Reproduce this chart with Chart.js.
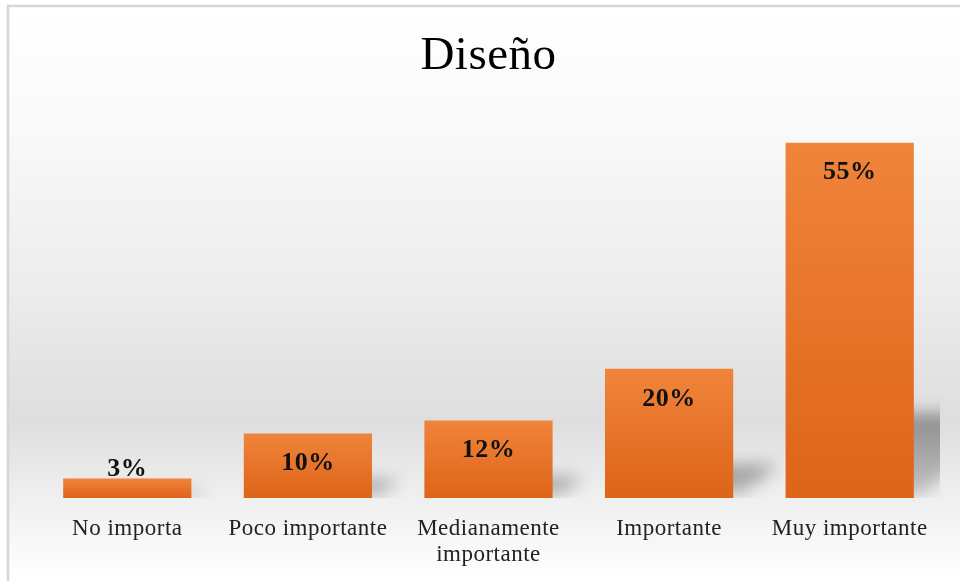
<!DOCTYPE html>
<html lang="es">
<head>
<meta charset="utf-8">
<title>Diseño</title>
<script src="https://cdn.jsdelivr.net/npm/chart.js@4/dist/chart.umd.min.js"></script>
<style>
    html, body { margin:0; padding:0; background:#ffffff; }
    #wrap { position:relative; width:960px; height:581px; }
</style>
</head>
<body>
<div id="wrap"><canvas id="disenoChart"></canvas></div>
<script>

//------------------------------------------------------
// DATA
//------------------------------------------------------

const categories = [
    "No importa",
    "Poco importante",
    ["Medianamente", "importante"],
    "Importante",
    "Muy importante"
];

const percentages = [3, 10, 12, 20, 55];

const valueLabels = ["3%", "10%", "12%", "20%", "55%"];

const SERIF = "'Liberation Serif', 'Times New Roman', serif";

//------------------------------------------------------
// BACKGROUND + FRAME (also sets the wide letter spacing)
//------------------------------------------------------

const backgroundPlugin = {
    id:"panelBackground",
    beforeDraw(chart){
        const ctx = chart.ctx;
        const w = chart.width;
        const h = chart.height;

        ctx.save();
        const g = ctx.createLinearGradient(0, 6, 0, h);
        g.addColorStop(0.00, "#ffffff");
        g.addColorStop(0.22, "#f9f9f9");
        g.addColorStop(0.50, "#ececec");
        g.addColorStop(0.72, "#dedede");
        g.addColorStop(0.87, "#f1f1f1");
        g.addColorStop(1.00, "#ffffff");
        ctx.fillStyle = g;
        ctx.fillRect(8, 6, w, h);

        ctx.strokeStyle = "#d6d6d6";
        ctx.lineWidth = 2.5;
        ctx.strokeRect(8, 6, w + 20, h + 20);
        ctx.restore();

        ctx.letterSpacing = "0.5px";
    },
    afterDraw(chart){
        chart.ctx.letterSpacing = "0px";
    }
};

//------------------------------------------------------
// PERSPECTIVE SHADOWS BEHIND THE BARS
//------------------------------------------------------

const shadowPlugin = {
    id:"barShadows",
    beforeDatasetsDraw(chart){
        const ctx = chart.ctx;
        const area = chart.chartArea;
        const meta = chart.getDatasetMeta(0);

        ctx.save();
        ctx.beginPath();
        ctx.rect(area.left, area.top, area.right - area.left, area.bottom - area.top);
        ctx.clip();
        ctx.filter = "blur(8px)";

        meta.data.forEach(function(bar){
            const p = bar.getProps(["x", "y", "base", "width"], true);
            const left = p.x - p.width / 2;
            const right = p.x + p.width / 2;
            const sh = (p.base - p.y) * 0.23;
            const dx = sh * 1.2;
            const foot = p.base - 3;

            const g = ctx.createLinearGradient(0, foot - sh, 0, foot);
            g.addColorStop(0, "rgba(0,0,0,0.36)");
            g.addColorStop(1, "rgba(0,0,0,0.18)");
            ctx.fillStyle = g;

            ctx.beginPath();
            ctx.moveTo(left + 8, foot);
            ctx.lineTo(right + 8, foot);
            ctx.lineTo(right + 8 + dx, foot - sh);
            ctx.lineTo(left + 8 + dx, foot - sh);
            ctx.closePath();
            ctx.fill();
        });

        ctx.restore();
    }
};

//------------------------------------------------------
// VALUE LABELS
//------------------------------------------------------

const valueLabelPlugin = {
    id:"valueLabels",
    afterDatasetsDraw(chart){
        const ctx = chart.ctx;
        const meta = chart.getDatasetMeta(0);

        ctx.save();
        ctx.font = "bold 26px " + SERIF;
        ctx.fillStyle = "#111111";
        ctx.textAlign = "center";
        ctx.textBaseline = "middle";

        meta.data.forEach(function(bar, i){
            const p = bar.getProps(["x", "y", "base"], true);
            const height = p.base - p.y;
            const y = height >= 50 ? p.y + 30 : p.base - 29;
            ctx.fillText(valueLabels[i], p.x, y);
        });

        ctx.restore();
    }
};

//------------------------------------------------------
// BAR FILL
//------------------------------------------------------

function barFill(context){
    const chart = context.chart;
    const yScale = chart.scales.y;
    if(!chart.chartArea || !yScale) return "#e8722a";

    const value = context.raw;
    const top = yScale.getPixelForValue(value);
    const base = yScale.getPixelForValue(0);
    const g = chart.ctx.createLinearGradient(0, top, 0, base);
    g.addColorStop(0, "#f0843b");
    g.addColorStop(1, "#dd6418");
    return g;
}

//------------------------------------------------------
// CHART
//------------------------------------------------------

const ctx = document.getElementById("disenoChart").getContext("2d");

new Chart(ctx,{

    type:"bar",

    data:{
        labels:categories,
        datasets:[{
            data:percentages,
            backgroundColor:barFill,
            borderWidth:0,
            categoryPercentage:1,
            barPercentage:0.71
        }]
    },

    options:{
        responsive:true,
        maintainAspectRatio:false,
        animation:false,
        layout:{
            padding:{ top:10, left:37, right:20, bottom:0 }
        },
        plugins:{
            legend:{ display:false },
            tooltip:{ enabled:false },
            title:{
                display:true,
                text:"Diseño",
                color:"#000000",
                font:{ family:SERIF, size:47, weight:"normal", lineHeight:1.2 },
                padding:{ top:18, bottom:26 }
            }
        },
        scales:{
            x:{
                grid:{ display:false, drawTicks:false },
                border:{ display:false },
                ticks:{
                    color:"#222222",
                    padding:18,
                    maxRotation:0,
                    autoSkip:false,
                    font:{ family:SERIF, size:23, lineHeight:1.12 }
                },
                afterFit(scale){ scale.height = 83; }
            },
            y:{
                display:false,
                min:0,
                max:60
            }
        }
    },

    plugins:[backgroundPlugin, shadowPlugin, valueLabelPlugin]

});

</script>
</body>
</html>
